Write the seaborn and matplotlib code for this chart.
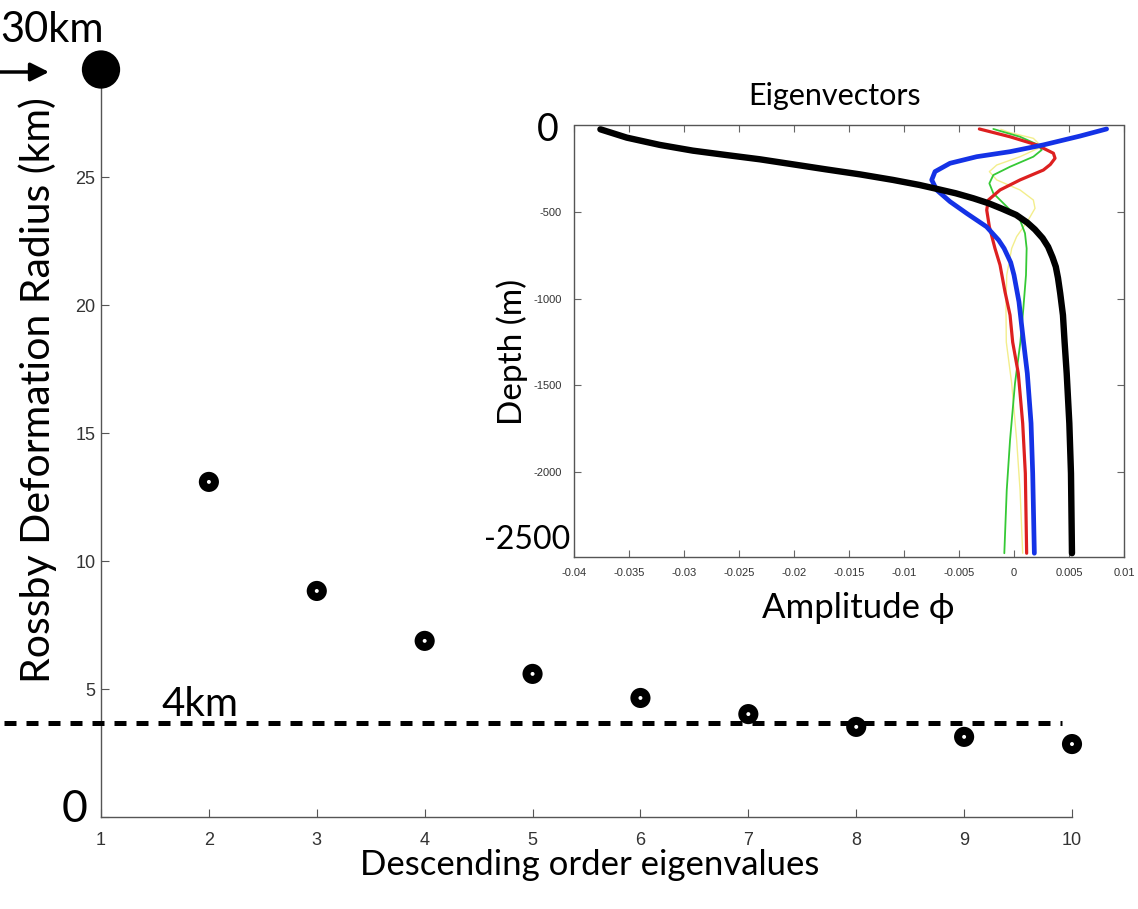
import matplotlib
matplotlib.use("Agg")
import matplotlib.pyplot as plt
import seaborn as sns
import numpy as np

# ---------------- data ----------------
mode = [1, 2, 3, 4, 5, 6, 7, 8, 9, 10]
radius_km = [29.2, 13.09, 8.83, 6.88, 5.59, 4.65, 4.02, 3.52, 3.13, 2.85]
threshold_km = 3.67
x_ticks = [1, 2, 3, 4, 5, 6, 7, 8, 9, 10]
y_ticks = [0, 5, 10, 15, 20, 25]

black_depth = [-22, -70, -112, -145, -170, -195, -224, -253, -282, -314, -343, -366, -391, -420,
               -449, -480, -516, -560, -600, -650, -700, -760, -815, -880, -968, -1094, -1250,
               -1430, -1718, -2007, -2468]
black_amp = [-0.0376, -0.0352, -0.0322, -0.0292, -0.0262, -0.0231, -0.0201, -0.0171, -0.0140, -0.0110,
             -0.0086, -0.0070, -0.0053, -0.0037, -0.0023, -0.0011, 0.0002, 0.0012, 0.0019, 0.0026,
             0.0031, 0.0035, 0.0038, 0.0040, 0.0042, 0.00445, 0.0046, 0.00479, 0.00503, 0.00518, 0.00527]

blue_depth = [-20, -61, -84, -112, -151, -180, -218, -266, -314, -372, -439, -507, -584, -661, -709,
              -790, -863, -1017, -1240, -1430, -1718, -2007, -2468]
blue_amp = [0.00842, 0.0060, 0.0045, 0.00267, -0.00036, -0.00339, -0.00582, -0.00718, -0.00748,
            -0.00703, -0.00582, -0.0043, -0.0025, -0.0014, -0.0009, -0.0003, 0.0000, 0.00045, 0.00085,
            0.00121, 0.00155, 0.0017, 0.00185]

red_depth = [-20, -65, -112, -160, -189, -225, -257, -314, -372, -430, -488, -584, -709, -805, -959,
             -1094, -1250, -1430, -1718, -2007, -2468]
red_amp = [-0.00315, -0.00036, 0.00206, 0.00358, 0.00373, 0.0033, 0.00267, 0.00055, -0.00127, -0.00233,
           -0.00248, -0.00224, -0.00173, -0.00127, -0.00082, -0.00036, -0.00012, 0.00039, 0.00079,
           0.00103, 0.00115]

green_depth = [-20, -65, -112, -141, -180, -238, -286, -334, -391, -468, -545, -622, -709, -863, -1055,
               -1250, -1488, -1815, -2103, -2468]
green_amp = [-0.00188, 0.00055, 0.00221, 0.00252, 0.00176, -0.00036, -0.00188, -0.00224, -0.00188,
             -0.00066, 0.00055, 0.0010, 0.00115, 0.00109, 0.00085, 0.00058, 0.00009, -0.00036,
             -0.00066, -0.00088]

yellow_depth = [-22, -41, -74, -122, -180, -228, -266, -314, -372, -430, -478, -545, -641, -709, -863,
                -1055, -1250, -1488, -1815, -2103, -2468]
yellow_amp = [-0.0012, -0.00036, 0.00176, 0.00252, 0.00055, -0.00157, -0.00224, -0.00157, 0.00055,
              0.00176, 0.00191, 0.0013, 0.00024, -0.00021, -0.00066, -0.00073, -0.0007, -0.00021,
              0.00024, 0.00055, 0.00079]

inset_x_ticks = [-0.04, -0.035, -0.03, -0.025, -0.02, -0.015, -0.01, -0.005, 0, 0.005, 0.01]
inset_x_labels = ["-0.04", "-0.035", "-0.03", "-0.025", "-0.02", "-0.015", "-0.01", "-0.005", "0", "0.005", "0.01"]
inset_y_ticks = [-2000, -1500, -1000, -500]
inset_y_labels = ["-2000", "-1500", "-1000", "-500"]

# ---------------- style ----------------
sns.set_theme(style="ticks")
plt.rcParams['font.family'] = ['Lato', 'DejaVu Sans']
plt.rcParams['text.color'] = 'black'
plt.rcParams['axes.labelcolor'] = 'black'

W, H = 1138, 909
fig = plt.figure(figsize=(W / 100, H / 100), dpi=100)
fig.patch.set_facecolor("white")

def fx(px):
    return px / W

def fy(py):
    return 1 - py / H

# main axes
ax = fig.add_axes([fx(101), fy(817), fx(1072) - fx(101), fy(69.5) - fy(817)])
ax.set_facecolor("white")

sns.scatterplot(x=mode[1:], y=radius_km[1:], ax=ax, s=210, color="black", edgecolor="none",
                zorder=5, clip_on=False, legend=False)
sns.scatterplot(x=mode[1:], y=radius_km[1:], ax=ax, s=8, color="white", edgecolor="none",
                zorder=6, clip_on=False, legend=False)
sns.scatterplot(x=mode[:1], y=radius_km[:1], ax=ax, s=760, color="black", edgecolor="none",
                zorder=6, clip_on=False, legend=False)

ax.plot([0.101, 9.906], [threshold_km, threshold_km], color="black", lw=3.6,
        dashes=(2.4, 2.0), clip_on=False, zorder=4, solid_capstyle="butt", dash_capstyle="butt")

ax.set_xlim(1, 10)
ax.set_ylim(0, 29.2)
ax.set_xticks(x_ticks)
ax.set_xticklabels([str(v) for v in x_ticks])
ax.set_yticks(y_ticks)
ax.set_yticklabels([""] + [str(v) for v in y_ticks[1:]])
for side in ["top", "right"]:
    ax.spines[side].set_visible(False)
for side in ["left", "bottom"]:
    ax.spines[side].set_color("#555555")
    ax.spines[side].set_linewidth(1.0)
ax.tick_params(axis="both", direction="in", length=6, width=0.8, color="#555555",
               labelcolor="#333333", labelsize=13)
ax.tick_params(axis="x", pad=11)
ax.tick_params(axis="y", pad=4)
for lab in ax.get_xticklabels() + ax.get_yticklabels():
    lab.set_fontfamily(["Liberation Sans", "DejaVu Sans"])

ax.set_xlabel("Descending order eigenvalues", fontsize=25, va="center")
ax.xaxis.set_label_coords((590 - 101) / 971, (817 - 865) / 747.5)
ax.set_ylabel("Rossby Deformation Radius (km)", fontsize=29.5, va="center")
ax.yaxis.set_label_coords((38 - 101) / 971, (817 - 390) / 747.5)

fig.text(fx(0), fy(30), "30km", fontsize=30, ha="left", va="center")
fig.text(fx(161), fy(704), "4km", fontsize=29, ha="left", va="center", zorder=3)
fig.text(fx(75), fy(810), "0", fontsize=32, ha="center", va="center")
ax.annotate("", xy=(fx(49), fy(72)), xytext=(fx(-2), fy(72)), xycoords="figure fraction",
            textcoords="figure fraction",
            arrowprops=dict(arrowstyle="-|>", lw=2.5, color="black", mutation_scale=28,
                            shrinkA=0, shrinkB=0))

# inset axes
ax_in = fig.add_axes([fx(574), fy(556.7), fx(1124) - fx(574), fy(125.5) - fy(556.7)])
ax_in.set_facecolor("white")
curves = [
    (yellow_amp, yellow_depth, "#f3ee8c", 1.0),
    (green_amp, green_depth, "#35c935", 1.3),
    (red_amp, red_depth, "#dd2020", 2.3),
    (blue_amp, blue_depth, "#1432e6", 3.4),
    (black_amp, black_depth, "black", 4.6),
]
for amp, dep, col, lw in curves:
    sns.lineplot(x=amp, y=dep, ax=ax_in, sort=False, estimator=None, color=col, lw=lw)

ax_in.set_xlim(-0.04, 0.01)
ax_in.set_ylim(-2488, 0)
ax_in.set_xticks(inset_x_ticks)
ax_in.set_xticklabels(inset_x_labels)
ax_in.set_yticks(inset_y_ticks)
ax_in.set_yticklabels(inset_y_labels)
for side in ax_in.spines:
    ax_in.spines[side].set_color("#555555")
    ax_in.spines[side].set_linewidth(1.0)
ax_in.tick_params(axis="both", direction="in", length=5, width=0.8, color="#666666",
                  labelcolor="#333333", labelsize=8, top=True, right=True)
ax_in.tick_params(axis="x", pad=8)
ax_in.tick_params(axis="y", pad=9)
for lab in ax_in.get_xticklabels() + ax_in.get_yticklabels():
    lab.set_fontfamily(["Liberation Sans", "DejaVu Sans"])

ax_in.set_xlabel("Amplitude ϕ", fontsize=25, va="center")
ax_in.xaxis.set_label_coords((858 - 574) / 550, (556.7 - 608) / 431.2)
ax_in.set_ylabel("Depth (m)", fontsize=24, va="center")
ax_in.yaxis.set_label_coords((512 - 574) / 550, (556.7 - 352) / 431.2)
ax_in.text((835 - 574) / 550, (556.7 - 96) / 431.2, "Eigenvectors", transform=ax_in.transAxes,
           fontsize=22, ha="center", va="center")

fig.text(fx(548), fy(130), "0", fontsize=27, ha="center", va="center")
fig.text(fx(527), fy(540), "-2500", fontsize=23, ha="center", va="center")

fig.savefig("out.png", dpi=100, facecolor="white")
